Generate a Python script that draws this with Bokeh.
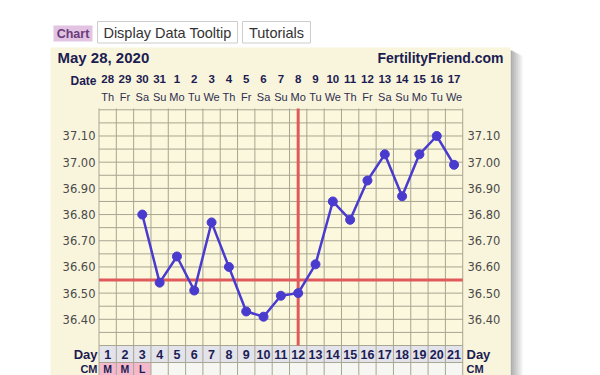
from bokeh.plotting import figure
from bokeh.models import Range1d
from bokeh.embed import file_html
from bokeh.resources import INLINE
from bokeh.core.properties import value
import numpy as np

# ---------------- data ----------------
days = list(range(1, 22))
dates = ["28", "29", "30", "31", "1", "2", "3", "4", "5", "6", "7", "8", "9",
         "10", "11", "12", "13", "14", "15", "16", "17"]
weekdays = ["Th", "Fr", "Sa", "Su", "Mo", "Tu", "We", "Th", "Fr", "Sa", "Su",
            "Mo", "Tu", "We", "Th", "Fr", "Sa", "Su", "Mo", "Tu", "We"]
temps = [None, None, 36.80, 36.54, 36.64, 36.51, 36.77, 36.60, 36.43, 36.41,
         36.49, 36.50, 36.61, 36.85, 36.78, 36.93, 37.03, 36.87, 37.03, 37.10, 36.99]
cm = ["M", "M", "L"] + [""] * 18
temp_ticks = [36.40, 36.50, 36.60, 36.70, 36.80, 36.90, 37.00, 37.10]
coverline = 36.55
ovulation_day = 12
temp_min, temp_max = 36.30, 37.20
temp_step = 0.05
chart_date = "May 28, 2020"
site = "FertilityFriend.com"

# ---------------- geometry ----------------
W, H = 600, 375
GRID_L = 98.5     # px of left grid edge
COL_W = 17.32     # px per day column
GRID_T = 109.3    # px of top grid edge
PPD = 261.9       # px per degree

x0 = 0.5 - GRID_L / COL_W
y1 = temp_max + GRID_T / PPD

p = figure(width=W, height=H, output_backend="svg", toolbar_location=None,
           x_range=Range1d(x0, x0 + W / COL_W),
           y_range=Range1d(y1 - H / PPD, y1),
           x_axis_type=None, y_axis_type=None, min_border=0,
           min_border_left=0, min_border_right=0, min_border_top=0, min_border_bottom=0)
p.outline_line_color = None
p.background_fill_color = "white"
p.border_fill_color = "white"
p.extra_x_ranges = {"px": Range1d(0, W)}
p.extra_y_ranges = {"px": Range1d(H, 0)}

FONT = value("Liberation Sans")
NAVY = "#1c1c52"
GRID_C = "#a8a590"

# ---------------- buttons ----------------
p.quad(left=53, right=92, top=25, bottom=41, x_range_name="px", y_range_name="px",
       fill_color="#e2c4e2", line_color=None)
p.text(x=[72.5], y=[33.5], text=["Chart"], x_range_name="px", y_range_name="px",
       text_align="center", text_baseline="middle", text_font=FONT,
       text_font_style="bold", text_font_size="12.5px", text_color="#6b3a7a")
for l, r, t in [(97, 237, "Display Data Tooltip"), (242, 310, "Tutorials")]:
    p.quad(left=l, right=r, top=21, bottom=42.5, x_range_name="px", y_range_name="px",
           fill_color="white", line_color="#cccccc", line_width=1)
    p.text(x=[(l + r) / 2], y=[32.5], text=[t], x_range_name="px", y_range_name="px",
           text_align="center", text_baseline="middle", text_font=FONT,
           text_font_size="14.5px", text_color="#333333")

# ---------------- panel ----------------
for i in range(6):
    p.quad(left=510 + 2 * i, right=512 + 2 * i, top=50 + i, bottom=376,
           x_range_name="px", y_range_name="px", fill_color="black",
           fill_alpha=0.32 * (1 - i / 6), line_color=None)
p.quad(left=50, right=510, top=47, bottom=376, x_range_name="px", y_range_name="px",
       fill_color="#f9f5dc", line_color=None)
p.quad(left=[days[0] - 0.5], right=[days[-1] + 0.5], bottom=[temp_min], top=[temp_max],
       fill_color="#fbf8de", line_color=None)

p.text(x=[57], y=[57], text=[chart_date], x_range_name="px", y_range_name="px",
       text_align="left", text_baseline="middle", text_font=FONT,
       text_font_style="bold", text_font_size="15px", text_color=NAVY)
p.text(x=[503], y=[57], text=[site], x_range_name="px", y_range_name="px",
       text_align="right", text_baseline="middle", text_font=FONT,
       text_font_style="bold", text_font_size="14px", text_color=NAVY)

# ---------------- header rows ----------------
p.text(x=[96], y=[80], text=["Date"], x_range_name="px", y_range_name="px",
       text_align="right", text_baseline="middle", text_font=FONT,
       text_font_style="bold", text_font_size="12px", text_color=NAVY)
p.text(x=days, y=[78] * len(days), text=dates, y_range_name="px",
       text_align="center", text_baseline="middle", text_font=FONT,
       text_font_style="bold", text_font_size="11.5px", text_color=NAVY)
p.text(x=days, y=[96] * len(days), text=weekdays, y_range_name="px",
       text_align="center", text_baseline="middle", text_font=FONT,
       text_font_size="11px", text_color="#2e2e50")

# ---------------- bottom rows ----------------
p.quad(left=[d - 0.5 for d in days], right=[d + 0.5 for d in days],
       top=[345] * len(days), bottom=[362] * len(days), y_range_name="px",
       fill_color="#e3e3eb", line_color=None)
p.quad(left=[d - 0.5 for d in days], right=[d + 0.5 for d in days],
       top=[362] * len(days), bottom=[376] * len(days), y_range_name="px",
       fill_color=["#f5b9ce" if c else "#f6f6f3" for c in cm], line_color=None)

# ---------------- grid ----------------
xs = [d - 0.5 for d in days] + [days[-1] + 0.5]
ys = list(np.round(np.arange(temp_min, temp_max + 1e-6, temp_step), 2))
p.segment(x0=xs, x1=xs, y0=[temp_min] * len(xs), y1=[temp_max + 0.005] * len(xs),
          line_color=GRID_C, line_width=1)
p.segment(x0=xs, x1=xs, y0=[345] * len(xs), y1=[376] * len(xs), y_range_name="px",
          line_color=GRID_C, line_width=1)
p.segment(x0=[xs[0]] * len(ys), x1=[xs[-1]] * len(ys), y0=ys, y1=ys,
          line_color=GRID_C, line_width=1)
p.segment(x0=[xs[0]], x1=[xs[-1]], y0=[362], y1=[362], y_range_name="px",
          line_color=GRID_C, line_width=1)

# temperature labels
tl = [f"{t:.2f}" for t in temp_ticks]
p.text(x=[95] * len(tl), y=temp_ticks, text=tl, x_range_name="px",
       text_align="right", text_baseline="middle", text_font=value("DejaVu Sans"),
       text_font_size="11.5px", text_color="#4a4a4a")
p.text(x=[467] * len(tl), y=temp_ticks, text=tl, x_range_name="px",
       text_align="left", text_baseline="middle", text_font=value("DejaVu Sans"),
       text_font_size="11.5px", text_color="#4a4a4a")

# day row labels
p.text(x=days, y=[354] * len(days), text=[str(d) for d in days], y_range_name="px",
       text_align="center", text_baseline="middle", text_font=FONT,
       text_font_style="bold", text_font_size="12.5px", text_color=NAVY)
p.text(x=days, y=[368] * len(days), text=cm, y_range_name="px",
       text_align="center", text_baseline="middle", text_font=FONT,
       text_font_style="bold", text_font_size="10.5px", text_color=NAVY)
p.text(x=[97], y=[354], text=["Day"], x_range_name="px", y_range_name="px",
       text_align="right", text_baseline="middle", text_font=FONT,
       text_font_style="bold", text_font_size="13px", text_color=NAVY)
p.text(x=[466], y=[354], text=["Day"], x_range_name="px", y_range_name="px",
       text_align="left", text_baseline="middle", text_font=FONT,
       text_font_style="bold", text_font_size="13px", text_color=NAVY)
p.text(x=[97], y=[368], text=["CM"], x_range_name="px", y_range_name="px",
       text_align="right", text_baseline="middle", text_font=FONT,
       text_font_style="bold", text_font_size="11px", text_color=NAVY)
p.text(x=[466], y=[368], text=["CM"], x_range_name="px", y_range_name="px",
       text_align="left", text_baseline="middle", text_font=FONT,
       text_font_style="bold", text_font_size="11px", text_color=NAVY)

# ---------------- coverline / ovulation ----------------
RED = "#e05a5c"
p.segment(x0=[xs[0]], x1=[xs[-1]], y0=[coverline], y1=[coverline],
          line_color=RED, line_width=3)
p.segment(x0=[ovulation_day], x1=[ovulation_day], y0=[temp_min], y1=[temp_max + 0.005],
          line_color=RED, line_width=3)

# ---------------- temperatures ----------------
t_arr = np.array([np.nan if t is None else t for t in temps], dtype=float)
BLUE = "#4a3bcf"
p.line(days, t_arr, line_color=BLUE, line_width=2.5)
p.scatter(days, t_arr, size=9, fill_color=BLUE, line_color=BLUE)

open("out.html", "w").write(file_html(p, INLINE))
